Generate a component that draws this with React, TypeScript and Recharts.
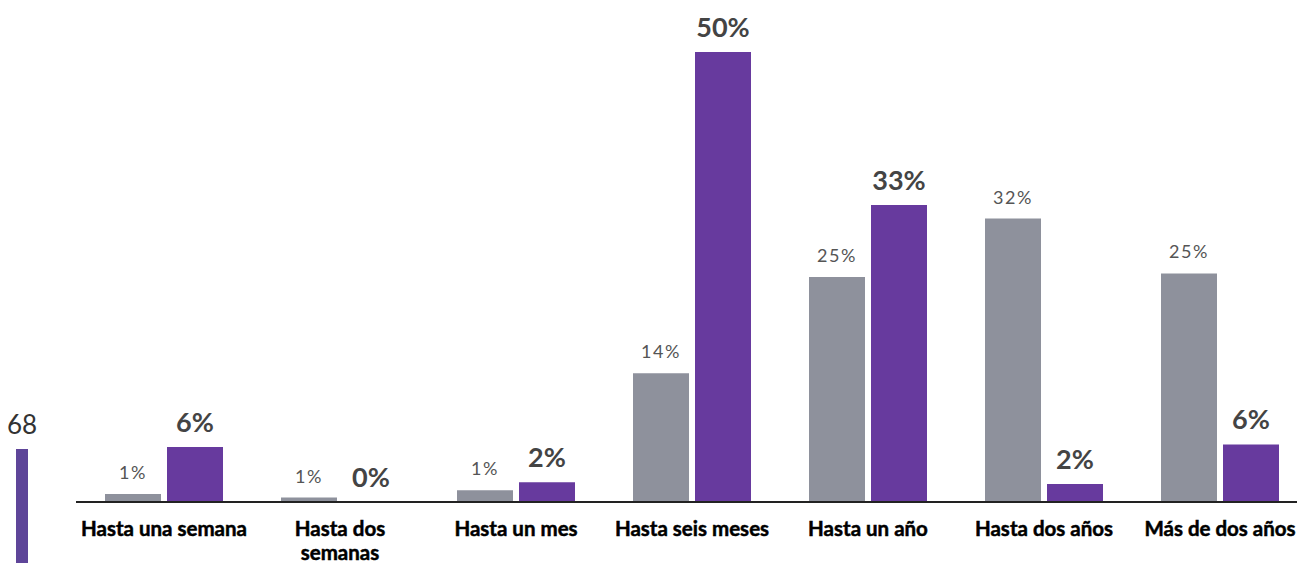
import { BarChart, Bar, XAxis, YAxis, LabelList } from 'recharts'

const categories = [
  'Hasta una semana',
  'Hasta dos\nsemanas',
  'Hasta un mes',
  'Hasta seis meses',
  'Hasta un año',
  'Hasta dos años',
  'Más de dos años',
]
const grayValues = [0.9, 0.5, 1.3, 14.3, 25, 31.5, 25.4]
const grayLabels = ['1%', '1%', '1%', '14%', '25%', '32%', '25%']
const purpleValues = [6.1, 0, 2.2, 50, 33, 2, 6.4]
const purpleLabels = ['6%', '0%', '2%', '50%', '33%', '2%', '6%']

const GRAY = '#8e919c'
const PURPLE = '#673a9e'
const BAR_GAP = 6

const data = categories.map((name, i) => ({
  name,
  gray: grayValues[i],
  purple: purpleValues[i],
  grayLabel: grayLabels[i],
  purpleLabel: purpleLabels[i],
}))

const purpleTextProps = { textAnchor: 'middle' as const, fontFamily: 'Lato', fontSize: 27, fontWeight: 700, fill: '#444' }

function CategoryTick({ x, y, payload }: any) {
  const lines = String(payload.value).split('\n')
  return (
    <text
      x={x}
      y={y + 26}
      textAnchor="middle"
      fontFamily="Lato"
      fontWeight={700}
      fontSize={20.5}
      fill="#000"
      stroke="#000"
      strokeWidth={0.5}
    >
      {lines.map((l, i) => (
        <tspan key={i} x={x} dy={i === 0 ? 0 : 24}>{l}</tspan>
      ))}
    </text>
  )
}

function PurpleLabel({ x, y, width, value }: any) {
  return (
    <text x={Number(x) + Number(width) / 2} y={Number(y) - 15} {...purpleTextProps}>
      {value}
    </text>
  )
}

// recharts skips labels of zero-height bars, so the gray label also places
// the purple one next to it when the purple value is 0
function GrayLabel({ x, y, width, height, value, index }: any) {
  const cx = Number(x) + Number(width) / 2
  const base = Number(y) + Number(height)
  return (
    <g>
      <text x={cx} y={Number(y) - 15} textAnchor="middle" fontFamily="Lato" fontSize={18} letterSpacing={1.5} fill="#555">
        {value}
      </text>
      {purpleValues[index] === 0 && (
        <text x={cx + Number(width) + BAR_GAP} y={base - 15} {...purpleTextProps}>
          {purpleLabels[index]}
        </text>
      )}
    </g>
  )
}

export default function App() {
  return (
    <div style={{ position: 'absolute', left: 0, top: 0, width: 1297, height: 563, overflow: 'hidden', background: '#fff', fontFamily: 'Lato' }}>
      {/* cropped legend stub on the left */}
      <div style={{ position: 'absolute', left: 7, top: 409, fontSize: 26, color: '#333', lineHeight: '30px' }}>68</div>
      <div style={{ position: 'absolute', left: 16, top: 449, width: 12, height: 120, background: '#5e4599' }} />

      <BarChart
        width={1310}
        height={563}
        data={data}
        margin={{ top: 52, right: 2, bottom: 0, left: 76 }}
        barCategoryGap={29}
        barGap={BAR_GAP}
        barSize={56}
      >
        <YAxis hide domain={[0, 50]} />
        <XAxis
          dataKey="name"
          axisLine={{ stroke: '#222', strokeWidth: 2 }}
          tickLine={false}
          interval={0}
          tick={<CategoryTick />}
          height={61}
        />
        <Bar dataKey="gray" fill={GRAY} isAnimationActive={false}>
          <LabelList dataKey="grayLabel" content={<GrayLabel />} />
        </Bar>
        <Bar dataKey="purple" fill={PURPLE} isAnimationActive={false}>
          <LabelList dataKey="purpleLabel" content={<PurpleLabel />} />
        </Bar>
      </BarChart>
    </div>
  )
}
